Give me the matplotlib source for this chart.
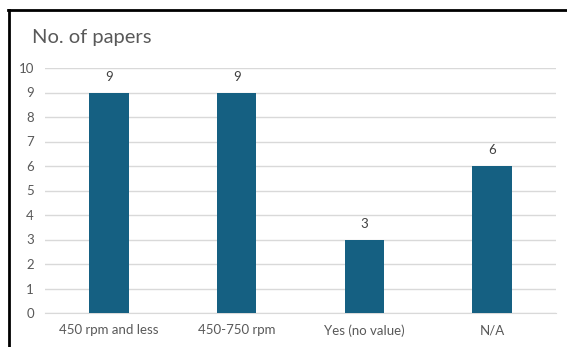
import matplotlib
matplotlib.use("Agg")
import matplotlib.pyplot as plt
from matplotlib.lines import Line2D

categories = ["450 rpm and less", "450-750 rpm", "Yes (no value)", "N/A"]
values = [9, 9, 3, 6]
yticks = list(range(0, 11))
title = "No. of papers"

plt.rcParams['font.family'] = ['Lato', 'DejaVu Sans']

W, H = 567, 347
fig = plt.figure(figsize=(W/100, H/100), dpi=100)
fig.patch.set_facecolor("white")
ax = fig.add_axes([45/W, 1-313/H, (556-45)/W, (313-68)/H])

x = list(range(len(categories)))
bars = ax.bar(x, values, width=0.31, color="#156082", zorder=3)
for xi, v in zip(x, values):
    ax.annotate(str(v), (xi, v), xytext=(0, 7), textcoords="offset points",
                ha="center", va="bottom", fontsize=9.5, color="#404040")

ax.set_xlim(-0.5, len(categories)-0.5)
ax.set_ylim(0, 10)
ax.set_yticks(yticks)
ax.set_xticks(x)
ax.set_xticklabels(categories)
ax.yaxis.grid(True, color="#d9d9d9", linewidth=1, zorder=0)
ax.set_axisbelow(True)
for s in ["top", "right", "left"]:
    ax.spines[s].set_visible(False)
ax.spines["bottom"].set_color("#d9d9d9")
ax.tick_params(axis="both", length=0, colors="#595959", labelsize=9.5)
ax.tick_params(axis="x", pad=8)
ax.tick_params(axis="y", pad=8)

fig.text(32/W, 1-38/H, title, fontsize=14.5, color="#595959", ha="left", va="center")

# screenshot frame
fig.add_artist(Line2D([8/W, 1], [1-9.5/H, 1-9.5/H], color="black", linewidth=2, transform=fig.transFigure))
fig.add_artist(Line2D([8.5/W, 8.5/W], [0, 1-9.5/H], color="black", linewidth=2, transform=fig.transFigure))

fig.savefig("out.png", dpi=100)
